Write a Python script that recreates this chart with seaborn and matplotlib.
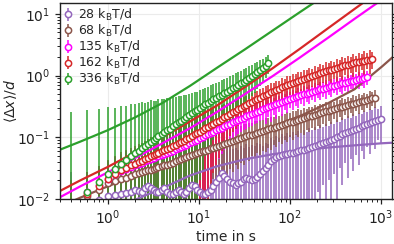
import pandas as pd
import matplotlib
matplotlib.use("Agg")
import matplotlib.pyplot as plt
import seaborn as sns

# sampling times of the measured curves (s)
time_s = [0.2, 0.4, 0.6, 0.8, 1.0, 1.2, 1.4, 1.6, 1.8, 2.0, 2.2, 2.4, 2.6, 2.8, 3.0,
          3.2, 3.4, 3.6, 3.9, 4.2, 4.5, 4.8, 5.2, 5.6, 6.0,
          6.4, 6.8, 7.3, 7.8, 8.4, 9.0, 9.6, 10.3, 11.0, 11.8,
          12.6, 13.5, 14.5, 15.5, 16.6, 17.8, 19.1, 20.5, 22, 23.6,
          25.3, 27.1, 29, 31, 33.2, 35.6, 38.2, 41, 44, 47,
          50.4, 54, 58, 62, 66.5, 71, 76, 82, 88, 94,
          101, 108, 116, 124, 133, 143, 153, 164, 176, 188,
          202, 216, 232, 248, 266, 285, 306, 328, 351, 376,
          403, 432, 463, 496, 532, 570, 611, 655, 702, 752,
          806, 864, 926, 992]

labels = ["28", "68", "135", "162", "336"]
colors = ["#9467bd", "#8c564b", "#ff00ff", "#d62728", "#2ca02c"]

# mean displacement / d and its error for each driving force
purple_mean = [0.004, 0.006, 0.008, 0.0098, 0.011, 0.0115, 0.012, 0.0125, 0.013, 0.014, 0.0135, 0.013, 0.015, 0.016, 0.015,
               0.014, 0.013, 0.013, 0.014, 0.015, 0.013, 0.012, 0.012, 0.013, 0.014,
               0.013, 0.012, 0.013, 0.015, 0.017, 0.016, 0.014, 0.013, 0.012, 0.012,
               0.013, 0.014, 0.016, 0.019, 0.022, 0.026, 0.024, 0.021, 0.019, 0.018,
               0.017, 0.018, 0.019, 0.021, 0.022, 0.021, 0.02, 0.021, 0.023, 0.025,
               0.028, 0.032, 0.036, 0.041, 0.045, 0.048, 0.05, 0.052, 0.053, 0.054,
               0.055, 0.056, 0.058, 0.06, 0.062, 0.063, 0.065, 0.067, 0.069, 0.072,
               0.075, 0.078, 0.081, 0.083, 0.086, 0.09, 0.095, 0.1, 0.106, 0.112,
               0.117, 0.122, 0.127, 0.132, 0.138, 0.144, 0.15, 0.156, 0.163, 0.17,
               0.177, 0.184, 0.192, 0.2]
purple_err = [0.02, 0.021, 0.019, 0.023, 0.022, 0.025, 0.021, 0.026, 0.024, 0.027, 0.023, 0.028, 0.025, 0.03, 0.026,
              0.031, 0.027, 0.033, 0.029, 0.035, 0.03, 0.036, 0.028, 0.034, 0.031,
              0.037, 0.032, 0.039, 0.034, 0.041, 0.035, 0.043, 0.036, 0.04, 0.038,
              0.044, 0.039, 0.046, 0.041, 0.048, 0.043, 0.05, 0.045, 0.052, 0.046,
              0.05, 0.044, 0.053, 0.047, 0.055, 0.049, 0.054, 0.05, 0.057, 0.052,
              0.045, 0.05, 0.042, 0.055, 0.046, 0.058, 0.048, 0.06, 0.05, 0.062,
              0.052, 0.064, 0.054, 0.066, 0.056, 0.07, 0.058, 0.072, 0.06, 0.075,
              0.062, 0.078, 0.064, 0.082, 0.066, 0.086, 0.07, 0.09, 0.074, 0.095,
              0.078, 0.1, 0.082, 0.104, 0.086, 0.108, 0.09, 0.112, 0.094, 0.116,
              0.098, 0.12, 0.1, 0.12]

brown_mean = [0.004, 0.007, 0.011, 0.014, 0.018, 0.0195, 0.021, 0.022, 0.0235, 0.025, 0.026, 0.027, 0.028, 0.029, 0.03,
              0.031, 0.032, 0.033, 0.034, 0.035, 0.036, 0.037, 0.039, 0.041, 0.043,
              0.044, 0.046, 0.048, 0.049, 0.051, 0.053, 0.055, 0.057, 0.059, 0.061,
              0.063, 0.066, 0.068, 0.07, 0.073, 0.076, 0.078, 0.081, 0.084, 0.087,
              0.09, 0.093, 0.096, 0.1, 0.103, 0.107, 0.11, 0.114, 0.118, 0.122,
              0.126, 0.13, 0.135, 0.139, 0.144, 0.149, 0.154, 0.159, 0.164, 0.169,
              0.175, 0.18, 0.186, 0.192, 0.198, 0.204, 0.211, 0.218, 0.225, 0.232,
              0.239, 0.246, 0.254, 0.262, 0.27, 0.278, 0.286, 0.295, 0.304, 0.313,
              0.322, 0.332, 0.342, 0.352, 0.362, 0.372, 0.383, 0.394, 0.405, 0.416,
              0.427, 0.438]
brown_err = [0.009, 0.012, 0.014, 0.016, 0.019, 0.021, 0.024, 0.027, 0.026, 0.029, 0.028, 0.032, 0.031, 0.034, 0.035,
             0.038, 0.037, 0.041, 0.04, 0.044, 0.043, 0.046, 0.049, 0.048, 0.052,
             0.051, 0.055, 0.054, 0.058, 0.057, 0.061, 0.06, 0.064, 0.063, 0.067,
             0.045, 0.05, 0.047, 0.052, 0.049, 0.055, 0.051, 0.057, 0.053, 0.06,
             0.055, 0.062, 0.057, 0.064, 0.059, 0.066, 0.061, 0.068, 0.063, 0.07,
             0.065, 0.073, 0.067, 0.076, 0.069, 0.079, 0.071, 0.082, 0.073, 0.085,
             0.075, 0.088, 0.077, 0.091, 0.079, 0.094, 0.081, 0.097, 0.083, 0.1,
             0.085, 0.104, 0.087, 0.108, 0.089, 0.112, 0.091, 0.116, 0.093, 0.12,
             0.095, 0.124, 0.097, 0.128, 0.099, 0.132, 0.101, 0.136, 0.103, 0.14,
             0.105, 0.145]

magenta_mean = [0.004, 0.008, 0.013, 0.017, 0.021, 0.025, 0.028, 0.031, 0.033, 0.035, 0.037, 0.039, 0.041, 0.043, 0.045,
                0.047, 0.049, 0.05, 0.052, 0.054, 0.056, 0.058, 0.061, 0.064, 0.067,
                0.07, 0.073, 0.076, 0.08, 0.084, 0.088, 0.092, 0.097, 0.102, 0.107,
                0.112, 0.118, 0.124, 0.13, 0.137, 0.144, 0.151, 0.159, 0.167, 0.175,
                0.183, 0.192, 0.2, 0.209, 0.218, 0.228, 0.238, 0.249, 0.26, 0.271,
                0.283, 0.295, 0.307, 0.32, 0.333, 0.346, 0.36, 0.374, 0.388, 0.402,
                0.417, 0.432, 0.447, 0.463, 0.479, 0.495, 0.512, 0.529, 0.546, 0.563,
                0.58, 0.598, 0.616, 0.634, 0.652, 0.671, 0.69, 0.709, 0.728, 0.748,
                0.768, 0.788, 0.808, 0.829, 0.85, 0.871, 0.892, 0.913, 0.935]
magenta_err = [0.01, 0.012, 0.014, 0.017, 0.02, 0.023, 0.026, 0.028, 0.03, 0.032, 0.034, 0.036, 0.038, 0.04, 0.042,
               0.045, 0.048, 0.051, 0.055, 0.059, 0.063, 0.067, 0.071, 0.075, 0.079,
               0.083, 0.086, 0.089, 0.092, 0.095, 0.097, 0.099, 0.1, 0.1, 0.1,
               0.1, 0.098, 0.096, 0.094, 0.092, 0.09, 0.088, 0.086, 0.084, 0.082,
               0.08, 0.08, 0.08, 0.08, 0.08, 0.082, 0.084, 0.086, 0.088, 0.09,
               0.092, 0.13, 0.096, 0.14, 0.1, 0.145, 0.105, 0.15, 0.111, 0.155,
               0.117, 0.16, 0.123, 0.17, 0.129, 0.175, 0.136, 0.18, 0.144, 0.19,
               0.152, 0.2, 0.16, 0.21, 0.168, 0.22, 0.176, 0.23, 0.185, 0.24,
               0.195, 0.25, 0.205, 0.26, 0.215, 0.27, 0.225, 0.28, 0.235]

red_mean = [0.004, 0.008, 0.012, 0.016, 0.021, 0.025, 0.029, 0.032, 0.035, 0.037, 0.04, 0.042, 0.045, 0.047, 0.05,
            0.052, 0.054, 0.056, 0.059, 0.062, 0.065, 0.068, 0.072, 0.076, 0.08,
            0.084, 0.088, 0.093, 0.099, 0.105, 0.111, 0.117, 0.124, 0.131, 0.139,
            0.147, 0.156, 0.166, 0.176, 0.187, 0.199, 0.211, 0.224, 0.238, 0.253,
            0.268, 0.284, 0.3, 0.318, 0.336, 0.355, 0.375, 0.396, 0.418, 0.44,
            0.463, 0.487, 0.512, 0.537, 0.563, 0.59, 0.617, 0.645, 0.673, 0.7,
            0.73, 0.76, 0.79, 0.82, 0.85, 0.88, 0.91, 0.94, 0.98, 1.01,
            1.05, 1.09, 1.13, 1.17, 1.21, 1.25, 1.29, 1.33, 1.37, 1.42,
            1.46, 1.5, 1.55, 1.59, 1.63, 1.67, 1.71, 1.75, 1.78, 1.81,
            1.84]
red_err = [0.01, 0.012, 0.015, 0.018, 0.022, 0.025, 0.028, 0.03, 0.033, 0.035, 0.038, 0.04, 0.043, 0.046, 0.05,
           0.053, 0.056, 0.06, 0.064, 0.068, 0.072, 0.077, 0.082, 0.088, 0.094,
           0.1, 0.105, 0.11, 0.115, 0.12, 0.125, 0.13, 0.133, 0.136, 0.138,
           0.14, 0.14, 0.14, 0.14, 0.14, 0.14, 0.14, 0.135, 0.135, 0.13,
           0.13, 0.13, 0.13, 0.135, 0.135, 0.14, 0.14, 0.145, 0.15, 0.155,
           0.17, 0.2, 0.18, 0.22, 0.19, 0.24, 0.21, 0.26, 0.22, 0.28,
           0.24, 0.3, 0.26, 0.32, 0.28, 0.35, 0.3, 0.38, 0.32, 0.4,
           0.34, 0.43, 0.36, 0.46, 0.38, 0.5, 0.4, 0.53, 0.42, 0.56,
           0.44, 0.6, 0.46, 0.64, 0.48, 0.68, 0.5, 0.72, 0.52, 0.76,
           0.55]

green_mean = [0.004, 0.008, 0.013, 0.019, 0.025, 0.031, 0.037, 0.043, 0.049, 0.055, 0.061, 0.067, 0.073, 0.079, 0.085,
              0.091, 0.097, 0.103, 0.111, 0.12, 0.129, 0.138, 0.15, 0.162, 0.174,
              0.186, 0.198, 0.213, 0.228, 0.246, 0.264, 0.28, 0.3, 0.32, 0.34,
              0.36, 0.385, 0.41, 0.435, 0.46, 0.49, 0.52, 0.55, 0.585, 0.62,
              0.66, 0.7, 0.745, 0.79, 0.84, 0.91, 0.98, 1.05, 1.13, 1.22,
              1.32, 1.45, 1.62]
green_err = [0.25, 0.25, 0.26, 0.27, 0.28, 0.27, 0.29, 0.28, 0.3, 0.29, 0.3, 0.31, 0.29, 0.3, 0.31,
             0.3, 0.29, 0.31, 0.3, 0.29, 0.3, 0.29, 0.3, 0.28, 0.29,
             0.28, 0.29, 0.27, 0.28, 0.27, 0.28, 0.27, 0.28, 0.29, 0.29,
             0.3, 0.31, 0.32, 0.33, 0.34, 0.36, 0.37, 0.38, 0.4, 0.42,
             0.43, 0.45, 0.46, 0.48, 0.49, 0.5, 0.51, 0.52, 0.53, 0.54,
             0.54, 0.55, 0.55]

# fitted model curves
fit_t = [0.3, 0.5, 1, 2, 4, 8, 16, 32, 64, 128, 256, 512, 1024, 1400]
purple_fit = [0.003, 0.004, 0.006, 0.0097, 0.015, 0.024, 0.034, 0.044, 0.053, 0.061, 0.068, 0.074, 0.08, 0.082]
brown_fit = [0.0075, 0.0105, 0.016, 0.024, 0.035, 0.052, 0.075, 0.105, 0.15, 0.22, 0.35, 0.6, 1.4, 2.1]
magenta_fit = [0.0107, 0.016, 0.027, 0.046, 0.08, 0.14, 0.26, 0.5, 0.97, 1.95, 4.0, 8.3, 17, 24]
red_fit = [0.0135, 0.02, 0.033, 0.057, 0.1, 0.18, 0.33, 0.65, 1.3, 2.7, 5.7, 12, 25, 35]
green_fit = [0.063, 0.085, 0.13, 0.21, 0.36, 0.68, 1.35, 2.65, 5.3, 10.6, 21, 42, 84, 115]

means = [purple_mean, brown_mean, magenta_mean, red_mean, green_mean]
errs = [purple_err, brown_err, magenta_err, red_err, green_err]
fits = [purple_fit, brown_fit, magenta_fit, red_fit, green_fit]

sns.set_style("ticks", {"axes.grid": True, "grid.color": "#ebebeb",
                        "axes.edgecolor": "#222222", "xtick.color": "#222222",
                        "ytick.color": "#222222"})
plt.rcParams["font.family"] = ["DejaVu Sans"]
plt.rcParams["font.size"] = 10

fig = plt.figure(figsize=(3.94, 2.44), dpi=100)
ax = fig.add_axes([60 / 394, 45 / 244, 332 / 394, 196 / 244])

for lab, c, m, e in zip(labels, colors, means, errs):
    ax.errorbar(time_s[:len(m)], m, yerr=e, fmt="o", color=c, mfc="white", mec=c,
                ecolor=c, elinewidth=1.1, ms=4.5, mew=1.1, capsize=0,
                label=lab + r" k$_\mathrm{B}$T/d")

fit_df = pd.DataFrame({
    "t": fit_t * len(labels),
    "v": sum(fits, []),
    "series": [lab for lab in labels for _ in fit_t],
})
sns.lineplot(data=fit_df, x="t", y="v", hue="series", hue_order=labels,
             palette=dict(zip(labels, colors)), linewidth=1.6, legend=False,
             estimator=None, ax=ax)

ax.set_xscale("log")
ax.set_yscale("log")
ax.set_xlim(0.3, 1320)
ax.set_ylim(0.01, 15)
ax.grid(True, which="major", color="#ebebeb", linewidth=0.8)
ax.tick_params(which="both", direction="out", right=True, labelright=False,
               labelsize=10)
ax.tick_params(which="major", length=3.5, width=0.9)
ax.tick_params(which="minor", length=2, width=0.7)
for s in ax.spines.values():
    s.set_linewidth(1.0)

ax.set_xlabel("time in s", fontsize=10, labelpad=2)
ax.set_ylabel(r"$\langle \Delta x\rangle/d$", fontsize=10)
ax.yaxis.set_label_coords(-0.122, 0.5)

ax.legend(loc="upper left", frameon=False, fontsize=9, handlelength=0.6,
          handletextpad=0.5, borderaxespad=0.1, borderpad=0.2, labelspacing=0.0)

fig.savefig("out.png", dpi=100)
